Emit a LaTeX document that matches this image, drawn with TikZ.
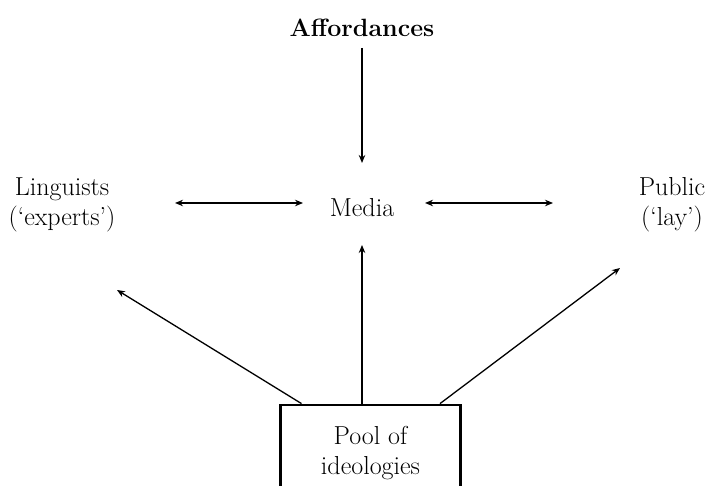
\documentclass[tikz,border=0pt]{standalone}
\usetikzlibrary{arrows.meta}
\begin{document}
\begin{tikzpicture}[x=1pt,y=1pt,
  lbl/.style={font=\fontsize{26}{30}\selectfont, align=center, inner sep=0pt},
  arr/.style={line width=1.3pt, -{Stealth[length=8pt,width=6.5pt]}},
  darr/.style={line width=1.3pt, {Stealth[length=8pt,width=6.5pt]}-{Stealth[length=8pt,width=6.5pt]}},
  poolbox/.style={draw, line width=2.8pt, minimum width=180pt, minimum height=101pt, inner sep=0pt}]
\useasboundingbox (0,0) rectangle (708,486);
\clip (0,0) rectangle (708,486);

% labels
\node[lbl, font=\fontsize{25}{30}\selectfont\bfseries] (aff) at (362,458) {Affordances};
\node[lbl] (media) at (362,278) {Media};
\node[lbl] (ling) at (62,281) {Linguists\\(`experts')};
\node[lbl] (pub) at (672,281) {Public\\(`lay')};
\node[poolbox] (pool) at (370.5,30.5) {};
\node[lbl] (pooltxt) at (370.5,33) {Pool of\\ideologies};

% connector end points
\coordinate (affEnd) at (362,323);
\coordinate (lingR) at (175,283);
\coordinate (mediaL) at (303,283);
\coordinate (mediaR) at (425,283);
\coordinate (pubL) at (553,283);
\coordinate (mediaB) at (362,241);
\coordinate (lingB) at (117,196);
\coordinate (pubB) at (620,218);

% connectors
\draw[arr] ([yshift=-20pt]aff.center) -- (affEnd);
\draw[darr] (lingR) -- (mediaL);
\draw[darr] (mediaR) -- (pubL);
\draw[arr] ([xshift=-8.5pt]pool.north) -- (mediaB);
\draw[arr] ([xshift=-69pt]pool.north) -- (lingB);
\draw[arr] ([xshift=69.5pt]pool.north) -- (pubB);
\end{tikzpicture}
\end{document}
